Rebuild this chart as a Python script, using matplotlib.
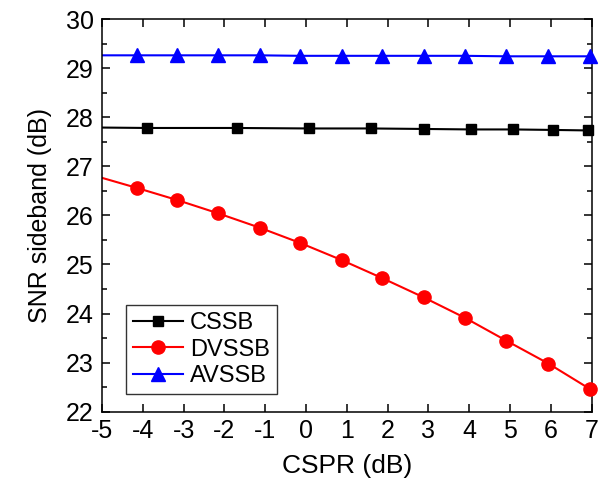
import matplotlib
matplotlib.use('Agg')
import matplotlib.pyplot as plt
import numpy as np

plt.rcParams['font.family'] = ['Liberation Sans', 'DejaVu Sans']
plt.rcParams['axes.unicode_minus'] = False

# CSPR values (dB) for each curve; first point lies just left of the axis
cssb_x = [-6.5, -3.90, -1.70, 0.07, 1.59, 2.89, 4.04, 5.08, 6.06, 6.90]
cssb_y = [27.80, 27.78, 27.78, 27.77, 27.77, 27.76, 27.75, 27.75, 27.74, 27.73]

dvssb_x = [-5.15, -4.15, -3.15, -2.15, -1.14, -0.15, 0.87, 1.87, 2.88, 3.90, 4.90, 5.94, 6.96]
dvssb_y = [26.80, 26.56, 26.31, 26.04, 25.75, 25.44, 25.09, 24.72, 24.33, 23.91, 23.45, 22.98, 22.46]

avssb_x = [-5.15, -4.15, -3.15, -2.15, -1.14, -0.15, 0.87, 1.87, 2.88, 3.90, 4.90, 5.94, 6.96]
avssb_y = [29.26, 29.26, 29.26, 29.26, 29.26, 29.25, 29.25, 29.25, 29.25, 29.25, 29.24, 29.24, 29.24]

x_min, x_max = -5, 7
y_min, y_max = 22, 30

fig = plt.figure(figsize=(6.02, 4.86), dpi=100)
ax = fig.add_axes([0.1694, 0.1529, 0.8135, 0.808])

series = [
    ('CSSB', cssb_x, cssb_y, 'black', 's', 7.5),
    ('DVSSB', dvssb_x, dvssb_y, 'red', 'o', 9.5),
    ('AVSSB', avssb_x, avssb_y, 'blue', '^', 10.5),
]

handles = []
for name, xs, ys, color, marker, ms in series:
    xs = np.array(xs)
    ys = np.array(ys)
    ax.plot(xs, ys, color=color, lw=1.5, zorder=2)
    keep = (xs >= x_min) & (xs <= x_max + 0.05)
    ax.plot(xs[keep], ys[keep], ls='none', marker=marker, ms=ms,
            color=color, clip_on=False, zorder=3)
    h, = ax.plot([], [], color=color, lw=1.5, marker=marker, ms=ms, label=name)
    handles.append(h)

ax.set_xlim(x_min, x_max)
ax.set_ylim(y_min, y_max)
ax.set_xticks(np.arange(-5, 8, 1))
ax.set_yticks(np.arange(22, 31, 1))
ax.set_yticks(np.arange(22, 30.01, 0.5), minor=True)
ax.tick_params(axis='both', which='both', direction='in', top=True, right=True,
               labelsize=18, width=1.1)
ax.tick_params(axis='both', which='major', length=6)
ax.tick_params(axis='y', which='minor', length=3.5)
ax.tick_params(axis='x', pad=5.5)
ax.tick_params(axis='y', pad=6)
for s in ax.spines.values():
    s.set_linewidth(1.1)

ax.set_xlabel('CSPR (dB)', fontsize=19, labelpad=8)
ax.set_ylabel('SNR sideband (dB)', fontsize=18, labelpad=10)

leg = ax.legend(handles=handles, loc='lower left', bbox_to_anchor=(0.049, 0.044),
                fontsize=17, frameon=True, fancybox=False, edgecolor='black',
                handlelength=2.1, handletextpad=0.3, borderpad=0.3,
                labelspacing=0.2, borderaxespad=0)
leg.get_frame().set_linewidth(1.0)

fig.savefig('out.png', dpi=100)
